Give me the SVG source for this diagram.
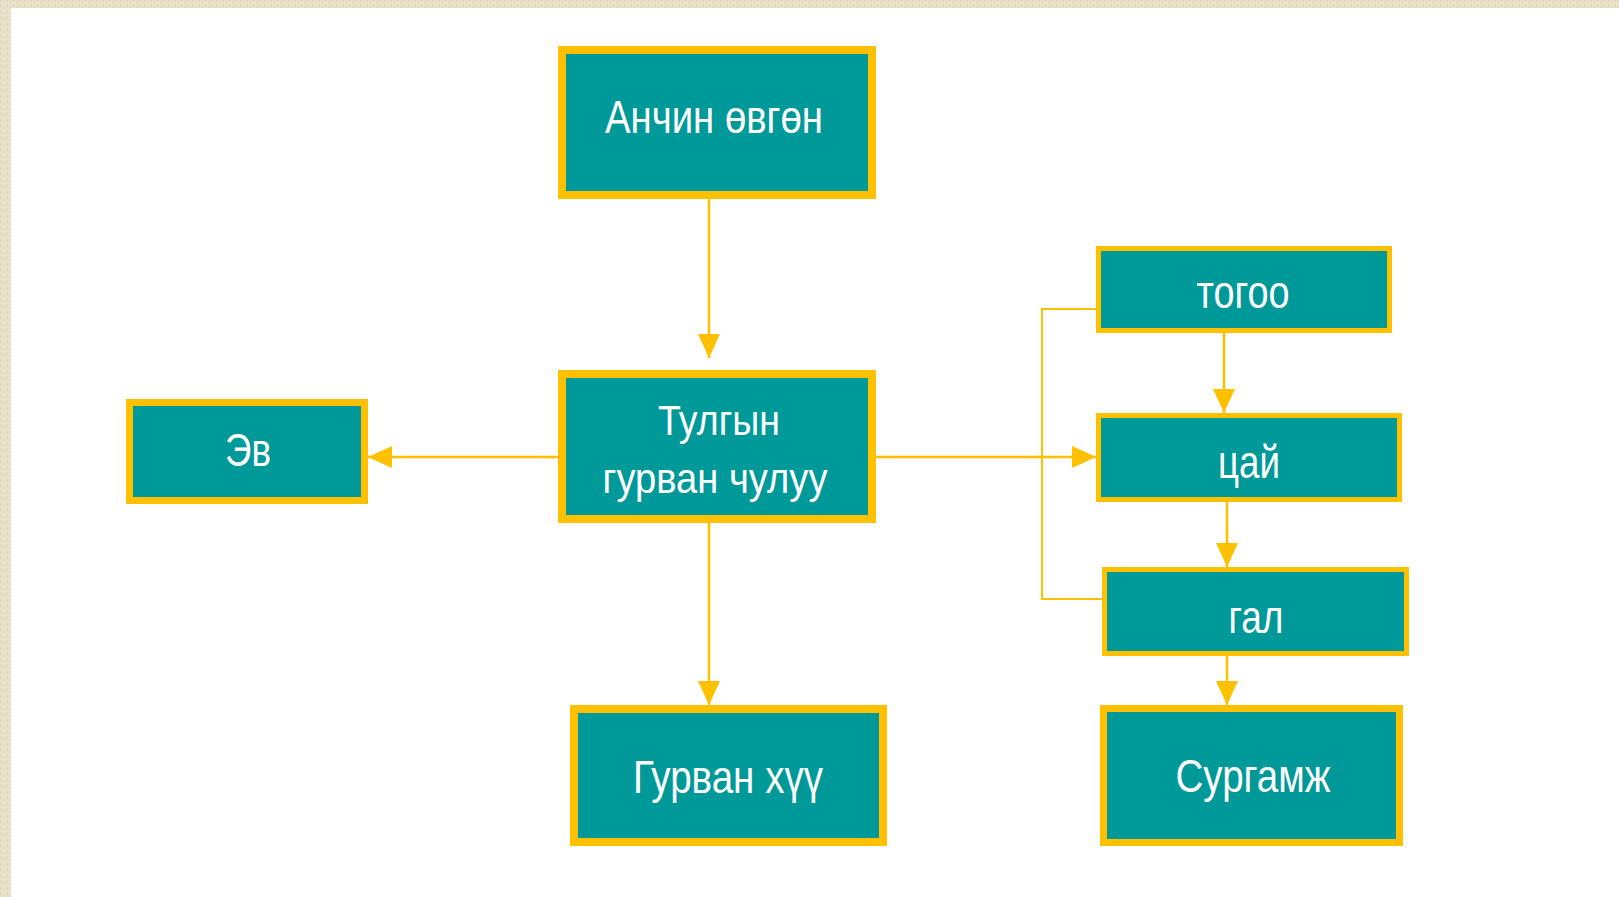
<svg xmlns="http://www.w3.org/2000/svg" width="1619" height="897" viewBox="0 0 1619 897">
  <defs>
    <style>
      .box { fill: #009999; stroke: #FFC000; }
      .lbl { fill: #FFFFFF; font-family: "Liberation Sans", Arial, sans-serif; text-anchor: middle; }
      .con { fill: none; stroke: #FFC000; stroke-width: 2.5; }
      .thin { fill: none; stroke: #FFC000; stroke-width: 2; }
    </style>
    <marker id="arr" markerUnits="userSpaceOnUse" markerWidth="24" markerHeight="22" refX="24" refY="11" orient="auto">
      <path d="M0,0 L24,11 L0,22 Z" fill="#FFC000"/>
    </marker>
    <pattern id="tex" width="6" height="6" patternUnits="userSpaceOnUse">
      <rect width="6" height="6" fill="#EAE1CB"/>
      <rect x="0" y="0" width="2" height="1" fill="#DCD0B4"/>
      <rect x="3" y="3" width="2" height="1" fill="#F2ECDD"/>
      <rect x="4" y="1" width="1" height="2" fill="#D8CCAE"/>
      <rect x="1" y="4" width="1" height="2" fill="#E0D6BE"/>
    </pattern>
  </defs>

  <rect x="0" y="0" width="1619" height="897" fill="#FFFFFF"/>
  <rect x="0" y="0" width="1619" height="8" fill="url(#tex)"/>
  <rect x="0" y="0" width="11" height="897" fill="url(#tex)"/>

  <g id="connectors">
    <path class="con" d="M709,199 V358" marker-end="url(#arr)"/>
    <path class="con" d="M558,457 H368" marker-end="url(#arr)"/>
    <path class="con" d="M709,523 V705" marker-end="url(#arr)"/>
    <path class="con" d="M876,457 H1096" marker-end="url(#arr)"/>
    <path class="con" d="M1224,333 V413" marker-end="url(#arr)"/>
    <path class="con" d="M1227,502 V567" marker-end="url(#arr)"/>
    <path class="con" d="M1227,656 V705" marker-end="url(#arr)"/>
    <path class="thin" d="M1096,309 H1042 V599 H1110"/>
  </g>

  <g id="node-anchin">
    <rect class="box" x="562" y="50" width="310" height="145" stroke-width="8"/>
    <text class="lbl" x="714" y="133" font-size="46" textLength="218" lengthAdjust="spacingAndGlyphs">Анчин өвгөн</text>
  </g>

  <g id="node-tulga">
    <rect class="box" x="562" y="374" width="310" height="145" stroke-width="8"/>
    <text class="lbl" x="719" y="435" font-size="43" textLength="122" lengthAdjust="spacingAndGlyphs">Тулгын</text>
    <text class="lbl" x="715" y="493" font-size="43" textLength="225" lengthAdjust="spacingAndGlyphs">гурван чулуу</text>
  </g>

  <g id="node-ev">
    <rect class="box" x="129.5" y="402.5" width="235" height="98" stroke-width="7"/>
    <text class="lbl" x="248" y="466" font-size="46" textLength="46" lengthAdjust="spacingAndGlyphs">Эв</text>
  </g>

  <g id="node-gurvan-khuu">
    <rect class="box" x="574" y="709" width="309" height="133" stroke-width="8"/>
    <text class="lbl" x="728" y="793" font-size="46" textLength="190" lengthAdjust="spacingAndGlyphs">Гурван хүү</text>
  </g>

  <g id="node-togoo">
    <rect class="box" x="1098.5" y="248.5" width="291" height="82" stroke-width="5"/>
    <text class="lbl" x="1243" y="308" font-size="47" textLength="93" lengthAdjust="spacingAndGlyphs">тогоо</text>
  </g>

  <g id="node-tsai">
    <rect class="box" x="1098.5" y="415.5" width="301" height="84" stroke-width="5"/>
    <text class="lbl" x="1249" y="478" font-size="47" textLength="62" lengthAdjust="spacingAndGlyphs">цай</text>
  </g>

  <g id="node-gal">
    <rect class="box" x="1104.5" y="569.5" width="302" height="84" stroke-width="5"/>
    <text class="lbl" x="1256" y="633" font-size="47" textLength="55" lengthAdjust="spacingAndGlyphs">гал</text>
  </g>

  <g id="node-surgamj">
    <rect class="box" x="1103.5" y="708.5" width="296" height="134" stroke-width="7"/>
    <text class="lbl" x="1253" y="792" font-size="46" textLength="155" lengthAdjust="spacingAndGlyphs">Сургамж</text>
  </g>
</svg>
